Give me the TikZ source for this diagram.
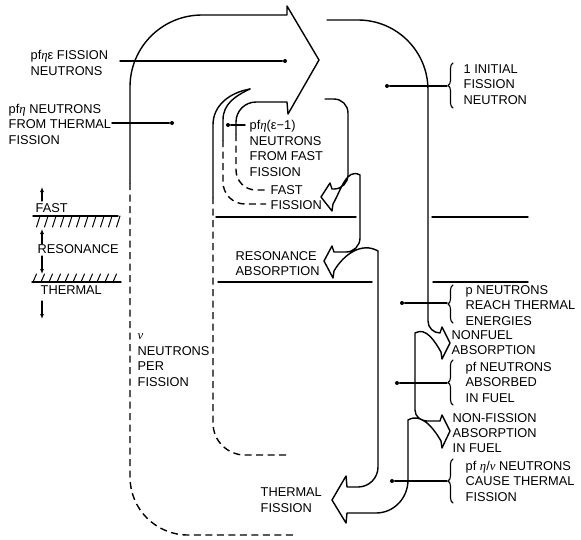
\documentclass[tikz,border=0pt]{standalone}
\usepackage{fontspec}
\setmainfont{Liberation Sans}
\newfontfamily\gserif{Liberation Serif}
\usetikzlibrary{arrows.meta,decorations.pathreplacing}
\newcommand\geta{{\gserif\itshape η}}
\newcommand\gnu{{\gserif\itshape ν}}
\begin{document}
\begin{tikzpicture}[x=1pt,y=-1pt,line width=1.4pt,line join=round,line cap=round,
  lbl/.style={inner sep=0pt,align=left,anchor=base west,font=\fontsize{12.8}{15.8}\selectfont},
  dot/.style={circle,fill,inner sep=0pt,minimum size=4pt},
  dsh/.style={dash pattern=on 7pt off 4.5pt,line cap=butt},
  brc/.style={decorate,decoration={brace,amplitude=5pt},line width=1.1pt},
  lead/.style={line width=1.4pt},
  legarrow/.style={-{Latex[length=5pt,width=4pt]},line width=1.1pt},
  hatch/.style={line width=1pt}]
\useasboundingbox (0,0) rectangle (581,539);

% ---- big upper stream (outer wall + arrow) ----
\draw (130,183) -- (130,87) to[out=90,in=180] (202,15) -- (287,15) -- (287,6) -- (319,60)
  -- (288,114) -- (287,102) -- (256,102) to[out=180,in=90] (236,122) -- (236,134);
\draw[dsh] (130,183) -- (130,477) to[out=-90,in=180] (188,535) -- (293,535);
\draw[dsh] (236,134) -- (236,170) to[out=-90,in=180] (256,190) -- (266,190);

% ---- fast fission loops ----
\draw (250,89) to[out=190,in=90] (213,125) -- (213,197);
\draw[dsh] (213,197) -- (213,423) to[out=-90,in=180] (245,455) -- (288,455);
\draw (250,89) to[out=205,in=90] (223,120) -- (223,140);
\draw[dsh] (223,140) -- (223,182) to[out=-90,in=180] (245,204) -- (266,204);

% ---- main descending stream with branch arrows ----
\draw (327,20) -- (358,20) to[out=0,in=90] (428,90) -- (428,321) to[out=-90,in=180] (440,333)
  -- (442,327) -- (450,343) -- (442,359) -- (441,352) to[out=120,in=30] (415,333)
  -- (415,410) to[out=-90,in=180] (427,421) -- (440,421) -- (442,415) -- (450,431) -- (442,448)
  -- (441,441) to[out=120,in=30] (408,420) -- (408,480) to[out=-90,in=0] (376,513)
  -- (347,513) -- (346,523) -- (332,500) -- (346,476) -- (347,487) -- (358,487)
  to[out=0,in=-90] (378,467) -- (378,251) to[out=150,in=60] (334,271)
  -- (333,278) -- (324,261) -- (332,246) -- (334,252) -- (346,252) to[out=0,in=-90] (360,238)
  -- (360,175) to[out=150,in=60] (333,204) -- (332,211) -- (321,197) -- (330,183) -- (332,189)
  -- (334,189) to[out=0,in=-90] (348,175) -- (348,113) to[out=90,in=0] (334,99) -- (325,99);

% ---- energy boundaries ----
\draw (216,217) -- (356,217);
\draw (432,217) -- (528,217);
\draw (218,282) -- (372,282);
\draw (433,282) -- (528,282);

% ---- legend ----
\draw (33,216) -- (118,216);
\foreach \x in {40,48,...,120} \draw[hatch] (\x,216) -- (\x-3.5,227);
\draw (32,282) -- (121,282);
\foreach \x in {33,41,...,113} \draw[hatch] (\x,282) -- (\x+3.5,274);
\draw[legarrow] (42,201) -- (42,187);
\draw[legarrow] (42,244) -- (42,229);
\draw[legarrow] (42,256) -- (42,274);
\draw[legarrow] (42,301) -- (42,319);
\node[lbl] (lfast) at (35,212.6) {FAST};
\node[lbl] (lres) at (37,253.6) {RESONANCE};
\node[lbl] (lther) at (40,294.6) {THERMAL};

% ---- labels (anchor = baseline of last line) ----
\node[lbl] (t1) at (30,75.6) {pf\geta ε FISSION\\NEUTRONS};
\node[lbl] (t2) at (8,144.6) {pf\geta{} NEUTRONS\\FROM THERMAL\\FISSION};
\node[lbl] (t3) at (137,386.6) {\gnu\\NEUTRONS\\PER\\FISSION};
\node[lbl] (t4) at (249,176.6) {pf\geta(ε−1)\\NEUTRONS\\FROM FAST\\FISSION};
\node[lbl] (t5) at (270,209) {FAST\\[-1.3pt]FISSION};
\node[lbl] (t6) at (235,275.6) {RESONANCE\\[-0.8pt]ABSORPTION};
\node[lbl] (t7) at (260,512.6) {THERMAL\\FISSION};
\node[lbl] (t8) at (463,104.6) {1 INITIAL\\FISSION\\NEUTRON};
\node[lbl] (t9) at (465,325.6) {p NEUTRONS\\REACH THERMAL\\ENERGIES};
\node[lbl] (t10) at (451,354.6) {NONFUEL\\[-0.8pt]ABSORPTION};
\node[lbl] (t11) at (465,402.6) {pf NEUTRONS\\ABSORBED\\IN FUEL};
\node[lbl] (t12) at (452,452.6) {NON-FISSION\\[-0.8pt]ABSORPTION\\[-0.8pt]IN FUEL};
\node[lbl] (t13) at (465,501.6) {pf \geta/\gnu{} NEUTRONS\\CAUSE THERMAL\\FISSION};

% ---- dots and leaders ----
\node[dot] (d1) at (285,61) {};
\coordinate (e1) at (120,61);
\draw[lead] (e1) -- (d1);
\node[dot] (d2) at (172,123) {};
\coordinate (e2) at (112,123);
\draw[lead] (e2) -- (d2);
\node[dot] (d3) at (228,125) {};
\coordinate (e3) at (245,125);
\draw[lead] (d3) -- (e3);
\node[dot] (d4) at (387,86) {};
\coordinate (e4) at (447,86);
\draw[lead] (d4) -- (e4);
\node[dot] (d5) at (402,303) {};
\coordinate (e5) at (447,303);
\draw[lead] (d5) -- (e5);
\node[dot] (d6) at (397,383) {};
\coordinate (e6) at (447,383);
\draw[lead] (d6) -- (e6);
\node[dot] (d7) at (392,481) {};
\coordinate (e7) at (447,481);
\draw[lead] (d7) -- (e7);

% ---- braces ----
\draw[brc] (453,108) -- (453,63);
\draw[brc] (453,323) -- (453,285);
\draw[brc] (453,405) -- (453,360);
\draw[brc] (453,503) -- (453,459);
\end{tikzpicture}
\end{document}
